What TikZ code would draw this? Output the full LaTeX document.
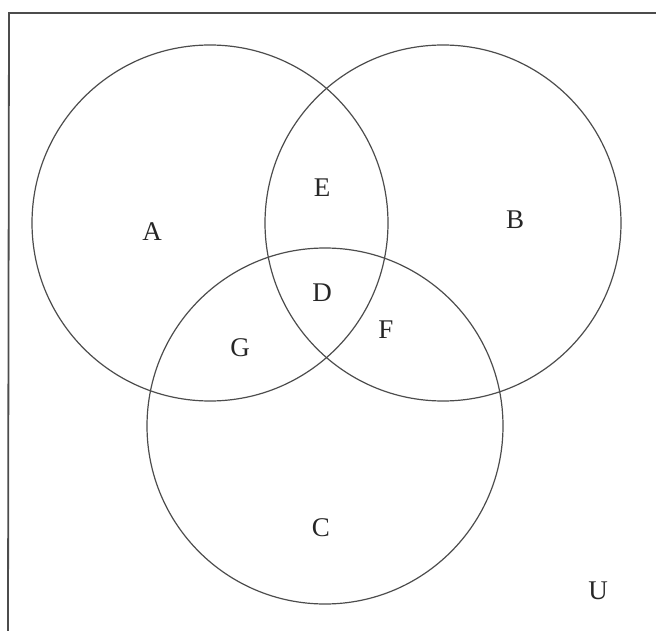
\documentclass[tikz,border=0pt]{standalone}
\usepackage{fontspec}
\setmainfont{Liberation Serif}
\begin{document}
\begin{tikzpicture}[x=1pt,y=-1pt,
  setcircle/.style={draw=black!70, line width=1.2pt},
  lbl/.style={font=\fontsize{27}{29}\selectfont, text=black!85, inner sep=0pt},
  framestyle/.style={draw=black!70, line width=1.8pt}]
\useasboundingbox (0,0) rectangle (656,631);
\coordinate (tl) at (9,13);
\coordinate (tr) at (656,13);
\coordinate (bl) at (8,631);
\draw[framestyle] (tr) -- (tl) -- (bl);
\node[setcircle, circle, minimum size=356pt, inner sep=0pt] (cA) at (210,223) {};
\node[setcircle, circle, minimum size=356pt, inner sep=0pt] (cB) at (443,223) {};
\node[setcircle, circle, minimum size=356pt, inner sep=0pt] (cC) at (325,426) {};
\node[lbl] (A) at (152,232) {A};
\node[lbl] (B) at (515,220) {B};
\node[lbl] (C) at (321,528) {C};
\node[lbl] (D) at (322,293) {D};
\node[lbl] (E) at (322,188) {E};
\node[lbl] (F) at (386,330) {F};
\node[lbl] (G) at (240,348) {G};
\node[lbl] (U) at (598,591) {U};
\end{tikzpicture}
\end{document}
